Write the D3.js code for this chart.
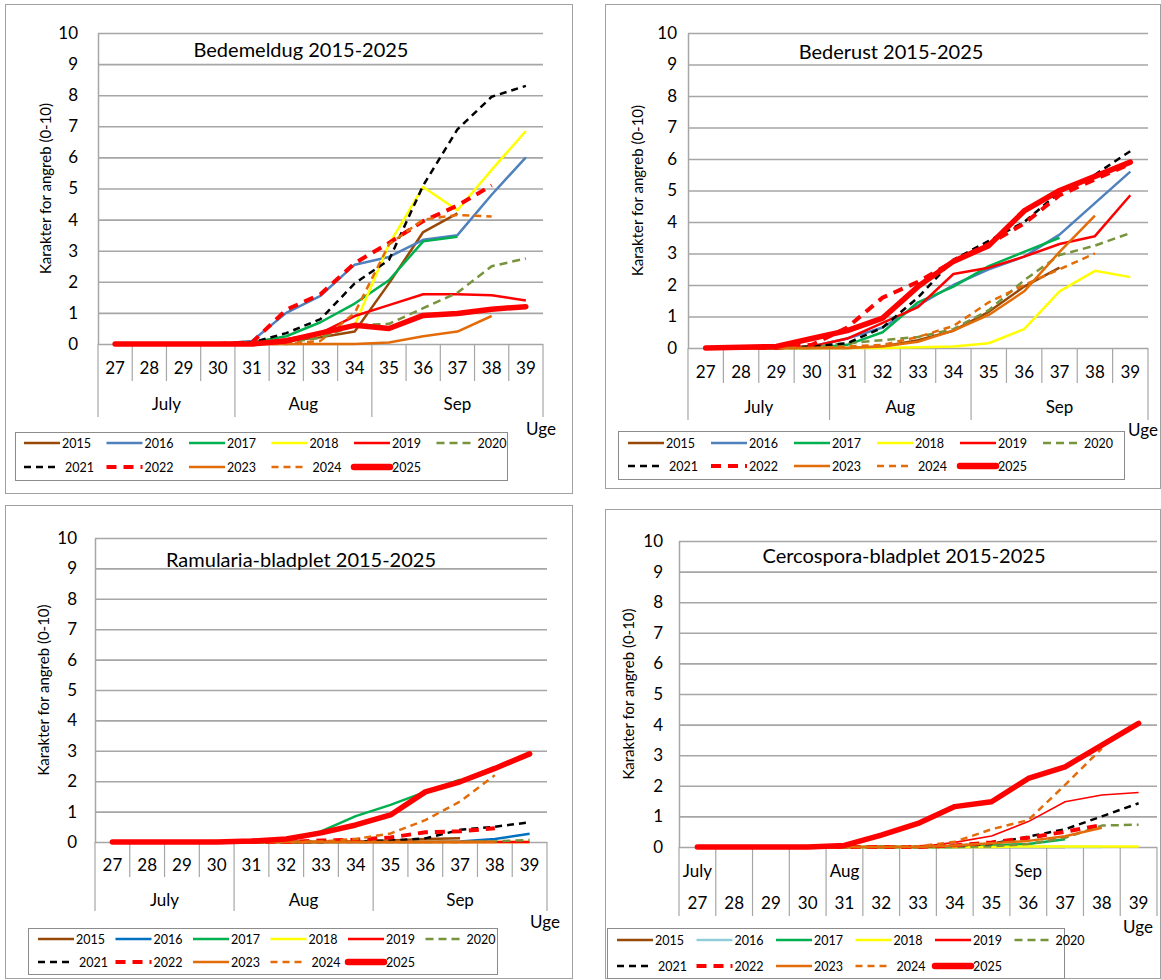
<!DOCTYPE html>
<html><head><meta charset="utf-8">
<script src="https://cdn.jsdelivr.net/npm/d3@7"></script>
<style>
body{margin:0;background:#fff;}
text{font-family:Lato,"Open Sans",sans-serif;fill:#000;}
</style>
</head><body>
<svg id="chart" width="1161" height="980"></svg>
<script>
// ---------- DATA ----------
const weeks = [27,28,29,30,31,32,33,34,35,36,37,38,39];
const years = ["2015","2016","2017","2018","2019","2020","2021","2022","2023","2024","2025"];
const yTicks = [0,1,2,3,4,5,6,7,8,9,10];
const monthLabels = ["July","Aug","Sep"];
const monthStartWeeks = [27,31,35];
const cercosporaMonthStartWeeks = [27,31,36];
const xAxisTitle = "Uge";
const yAxisTitle = "Karakter for angreb (0-10)";
const titles = ["Bedemeldug 2015-2025","Bederust 2015-2025","Ramularia-bladplet 2015-2025","Cercospora-bladplet 2015-2025"];

// rows = years 2015..2025, columns = weeks 27..39 (null = no observation)
const bedemeldug = [
  [0,0,0,0,0,0.1,0.22,0.4,1.95,3.6,4.2,null,null],
  [0,0,0,0,0.1,1.0,1.55,2.55,2.8,3.35,3.5,4.8,6.0],
  [0,0,0,0,0.05,0.25,0.7,1.3,2.05,3.3,3.45,null,null],
  [0,0,0,0,0,0.1,0.3,0.6,3.2,5.05,4.3,5.6,6.85],
  [0,0,0,0,0,0.15,0.35,0.9,1.25,1.6,1.6,1.57,1.4],
  [0,0,0,0,0,0.05,0.2,0.6,0.65,1.15,1.65,2.5,2.75],
  [0,0,0,0,0.05,0.35,0.8,1.95,2.7,5.1,6.9,7.95,8.3],
  [0,0,0,0,0.05,1.1,1.6,2.6,3.25,3.95,4.45,5.1,null],
  [0,0,0,0,0,0,0,0,0.05,0.25,0.4,0.9,null],
  [0,0,0,0,0,0,0.1,1.0,3.2,4.0,4.15,4.1,null],
  [0,0,0,0,0,0.1,0.35,0.6,0.5,0.92,0.98,1.12,1.2]
];
const bederust = [
  [0,0,0,0,0,0.05,0.25,0.55,1.15,1.95,2.55,null,null],
  [0,0,0,0.05,0.3,0.65,1.35,2.0,2.5,2.9,3.6,4.6,5.6],
  [0,0,0,0,0.1,0.5,1.45,1.95,2.6,3.05,3.5,null,null],
  [0,0,0,0,0,0,0.02,0.05,0.15,0.6,1.8,2.45,2.25],
  [0,0,0,0.05,0.3,0.8,1.3,2.35,2.55,2.9,3.3,3.55,4.85],
  [0,0,0,0.05,0.15,0.25,0.35,0.6,1.2,2.15,2.95,3.25,3.65],
  [0,0,0,0.05,0.15,0.65,1.6,2.8,3.4,4.0,4.95,5.5,6.25],
  [0,0,0,0.1,0.65,1.6,2.1,2.75,3.3,3.95,4.85,5.35,5.85],
  [0,0,0,0,0,0.05,0.2,0.55,1.05,1.8,3.05,4.2,null],
  [0,0,0,0,0.05,0.1,0.35,0.7,1.45,2.0,2.5,3.0,null],
  [0,0.02,0.05,0.3,0.55,0.95,1.95,2.75,3.25,4.35,5.0,5.45,5.9]
];
const ramularia = [
  [0,0,0,0,0,0,0,0.02,0.05,0.1,0.12,null,null],
  [0,0,0,0,0,0,0,0,0,0,0.02,0.1,0.27],
  [0,0,0,0,0,0.1,0.35,0.85,1.22,1.65,2.05,null,null],
  [0,0,0,0,0,0,0,0,0,0,0,0,0],
  [0,0,0,0,0,0,0,0,0,0,0,0,0],
  [0,0,0,0,0,0,0,0,0,0,0,0.02,0.07],
  [0,0,0,0,0,0,0,0.02,0.05,0.12,0.4,0.5,0.65],
  [0,0,0,0,0,0,0.05,0.07,0.15,0.32,0.35,0.45,null],
  [0,0,0,0,0,0,0,0,0,0,0,0,null],
  [0,0,0,0,0,0,0.02,0.1,0.28,0.72,1.33,2.2,null],
  [0,0,0,0,0.03,0.1,0.3,0.56,0.89,1.65,1.98,2.42,2.9]
];
const cercospora = [
  [0,0,0,0,0,0,0,0,0,0,0,null,null],
  [0,0,0,0,0,0,0,0,0,0,0,0,null],
  [0,0,0,0,0,0,0,0,0.05,0.1,0.25,null,null],
  [0,0,0,0,0,0,0,0,0,0.02,0.02,0.02,0.02],
  [0,0,0,0,0,0,0,0.15,0.36,0.83,1.48,1.7,1.78],
  [0,0,0,0,0,0,0,0,0.02,0.1,0.3,0.7,0.73],
  [0,0,0,0,0,0,0,0.05,0.1,0.34,0.58,1.0,1.43],
  [0,0,0,0,0,0,0,0.05,0.15,0.3,0.5,0.72,null],
  [0,0,0,0,0,0,0,0.05,0.12,0.2,0.35,0.63,null],
  [0,0,0,0,0,0,0.02,0.17,0.58,0.88,2.03,3.22,null],
  [0,0,0,0,0.05,0.39,0.77,1.32,1.48,2.24,2.62,3.33,4.04]
];

// ---------- STYLES ----------
const baseStyles = [
  {color:"#984807", w:2.5, dash:null},
  {color:"#4F81BD", w:2.5, dash:null},
  {color:"#00B050", w:2.5, dash:null},
  {color:"#FFFF00", w:2.5, dash:null},
  {color:"#FF0000", w:2.5, dash:null},
  {color:"#77933C", w:2.5, dash:"8,5"},
  {color:"#000000", w:2.5, dash:"7,5"},
  {color:"#FF0000", w:4, dash:"10,7"},
  {color:"#E36C09", w:2.5, dash:null},
  {color:"#E36C09", w:2.5, dash:"7,5"},
  {color:"#FF0000", w:5.5, dash:null}
];

const panels = [
  {title:titles[0], values:bedemeldug, box:[5,4,567,489], plot:[98,33,543,344], titleX:301, titleY:57,
   yTitleX:45, yGap:20, weekY:374, monthY:410, weekSep:381, monthSep:417, uge:[541,435],
   legend:[15,432,492,48], legX:24, legStep:82.5, legRows:[443,467], months:monthStartWeeks, layout:"std", c2016:"#4F81BD", w2019:2.5},
  {title:titles[1], values:bederust, box:[605,4,555,484], plot:[688,33,1148,348], titleX:891, titleY:59,
   yTitleX:637, yGap:11, weekY:378, monthY:413, weekSep:383, monthSep:420, uge:[1143,436],
   legend:[618,431,506,48], legX:628, legStep:83, legRows:[443,466], months:monthStartWeeks, layout:"std", c2016:"#4F81BD", w2019:2.5},
  {title:titles[2], values:ramularia, box:[5,505,567,473], plot:[95,538,547,842], titleX:301, titleY:567,
   yTitleX:43, yGap:18, weekY:871, monthY:906, weekSep:877, monthSep:911, uge:[545,928],
   legend:[28,928,469,46], legX:38, legStep:77.5, legRows:[939,962], months:monthStartWeeks, layout:"std", c2016:"#0070C0", w2019:2.5},
  {title:titles[3], values:cercospora, box:[605,509,555,469], plot:[679,541,1157,847], titleX:904, titleY:563,
   yTitleX:628, yGap:16, weekY:909, monthY:877, weekSep:916, monthSep:916, uge:[1138,933],
   legend:[607,928,457,50], legX:617, legStep:79.5, legRows:[940,966], months:cercosporaMonthStartWeeks, layout:"cerc", c2016:"#92CDDC", w2019:1.6}
];

const svg = d3.select("#chart");
const gridColor = "#A6A6A6";

panels.forEach(p => {
  const g = svg.append("g");
  const [bx,by,bw,bh] = p.box;
  g.append("rect").attr("x",bx+0.5).attr("y",by+0.5).attr("width",bw).attr("height",bh)
    .attr("fill","#fff").attr("stroke","#A0A0A0").attr("stroke-width",1);

  const [L,T,R,B] = p.plot;
  const x = d3.scaleBand().domain(weeks).range([L,R]).padding(0);
  const y = d3.scaleLinear().domain([0,10]).range([B,T]);

  // y axis + gridlines
  const ya = g.append("g").attr("transform",`translate(${L},0)`)
    .call(d3.axisLeft(y).tickValues(yTicks).tickSize(-(R-L)).tickSizeOuter(0).tickPadding(p.yGap));
  ya.select(".domain").attr("stroke",gridColor).attr("stroke-width",1.5);
  ya.selectAll(".tick line").attr("stroke",gridColor).attr("stroke-width",1.6);
  ya.selectAll(".tick text").attr("font-size",17).attr("font-family","Lato, sans-serif");

  // y title
  g.append("text").attr("transform",`translate(${p.yTitleX},${(T+B)/2}) rotate(-90)`)
    .attr("text-anchor","middle").attr("dominant-baseline","central").attr("font-size",15).text(yAxisTitle);

  // category axis
  const bw2 = x.bandwidth();
  const boundaries = weeks.map(w => x(w)).concat([R]);
  const monthBounds = p.months.map(w => x(w)).concat([R]);
  boundaries.forEach(bxv => {
    const isMonth = monthBounds.some(m => Math.abs(m-bxv) < 0.5);
    g.append("line").attr("x1",bxv).attr("x2",bxv).attr("y1",B).attr("y2", isMonth ? p.monthSep : p.weekSep)
      .attr("stroke",gridColor).attr("stroke-width",1.2);
  });
  g.selectAll(".wk").data(weeks).enter().append("text")
    .attr("x",d => x(d)+bw2/2).attr("y",p.weekY).attr("text-anchor","middle").attr("font-size",17).text(d=>d);
  if (p.layout === "std") {
    monthLabels.forEach((m,i) => {
      const x0 = monthBounds[i], x1 = monthBounds[i+1];
      g.append("text").attr("x",(x0+x1)/2).attr("y",p.monthY).attr("text-anchor","middle").attr("font-size",17).text(m);
    });
  } else {
    monthLabels.forEach((m,i) => {
      g.append("text").attr("x",x(p.months[i])+bw2/2).attr("y",p.monthY).attr("text-anchor","middle").attr("font-size",17).text(m);
    });
  }
  g.append("text").attr("x",p.uge[0]).attr("y",p.uge[1]).attr("text-anchor","middle").attr("font-size",17).text(xAxisTitle);

  // title
  g.append("text").attr("x",p.titleX).attr("y",p.titleY).attr("text-anchor","middle").attr("font-size",20).text(p.title);

  // series
  const styleFor = i => {
    const s = Object.assign({}, baseStyles[i]);
    if (i === 1) s.color = p.c2016;
    if (i === 4) s.w = p.w2019;
    return s;
  };
  const line = d3.line().defined(d => d.v !== null).x(d => x(d.w)+bw2/2).y(d => y(d.v));
  years.forEach((yr,i) => {
    const s = styleFor(i);
    const pts = weeks.map((w,j) => ({w:w, v:p.values[i][j]}));
    g.append("path").attr("d",line(pts)).attr("fill","none").attr("stroke",s.color)
      .attr("stroke-width",s.w).attr("stroke-dasharray",s.dash).attr("stroke-linejoin","round")
      .attr("stroke-linecap", i===10 ? "round" : "butt");
  });

  // legend
  const [lx,ly,lw,lh] = p.legend;
  g.append("rect").attr("x",lx+0.5).attr("y",ly+0.5).attr("width",lw).attr("height",lh)
    .attr("fill","#fff").attr("stroke","#8C8C8C").attr("stroke-width",1);
  years.forEach((yr,i) => {
    const s = styleFor(i);
    const col = i % 6, row = Math.floor(i/6);
    const sx = p.legX + col*p.legStep, sy = p.legRows[row];
    const dashed = s.dash !== null;
    g.append("line").attr("x1",sx).attr("x2",sx+36).attr("y1",sy).attr("y2",sy)
      .attr("stroke",s.color).attr("stroke-width",Math.max(s.w,2.5)+ (i===10?1:0)).attr("stroke-dasharray",s.dash)
      .attr("stroke-linecap", i===10 ? "round":"butt");
    g.append("text").attr("x",sx + (dashed && i!==7 ? 41 : 38)).attr("y",sy+4.5).attr("font-size",12.5).text(yr);
  });
});
</script>
</body></html>
